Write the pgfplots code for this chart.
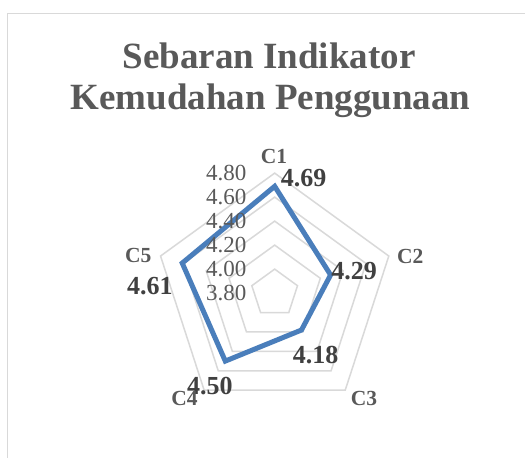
\documentclass[border=0pt]{standalone}
\usepackage{fontspec}
\setmainfont{Liberation Serif}
\usepackage{pgfplots}
\pgfplotsset{compat=1.18}
\usepgfplotslibrary{polar}
\usepackage{pgfplotstable}

\definecolor{gridgray}{HTML}{D9D9D9}
\definecolor{txtgray}{HTML}{595959}
\definecolor{lblgray}{HTML}{404040}
\definecolor{lineblue}{HTML}{4A7EBB}

% angle (deg) and mean score per indicator
\pgfplotstableread{
ang val
90 4.69
18 4.29
-54 4.18
-126 4.50
162 4.61
}\skordata

\begin{document}
\begin{tikzpicture}[x=1pt,y=1pt,
  catlbl/.style={text=txtgray, font=\fontsize{21.5}{23}\selectfont\bfseries},
  vallbl/.style={text=lblgray, font=\fontsize{26}{28}\selectfont\bfseries},
  ticklbl/.style={text=txtgray, font=\fontsize{23}{25}\selectfont, anchor=east},
]
\useasboundingbox (0,0) rectangle (525,458);
\fill[white] (0,0) rectangle (525,458);
\draw[gridgray, line width=1.5pt] (7.5,0) -- (7.5,444.5) -- (525,444.5);

\node[anchor=base, text=txtgray, font=\fontsize{37}{41}\selectfont\bfseries] at (269,389.7) {Sebaran Indikator};
\node[anchor=base, text=txtgray, font=\fontsize{37}{41}\selectfont\bfseries] at (270.5,348) {Kemudahan Penggunaan};

\begin{polaraxis}[
  at={(228.9,137.4)}, anchor=origin,
  scale only axis, width=240pt, height=240pt,
  xmin=0, xmax=360, ymin=0, ymax=1,
  hide axis, clip=false,
  y filter/.expression={y-3.8},
]
\pgfplotsinvokeforeach{4.0,4.2,4.4,4.6,4.8}{
  \addplot[gridgray, line width=1.5pt, line join=miter] coordinates {(90,#1) (18,#1) (-54,#1) (-126,#1) (162,#1)} --cycle;
}
\addplot[lineblue, line width=5pt, line join=miter] table[x=ang, y=val] {\skordata} --cycle;

% value labels
\node[vallbl, xshift=29pt, yshift=7.8pt] at (axis cs:90,0.89) {4.69};
\node[vallbl, xshift=23.4pt, yshift=4.3pt] at (axis cs:18,0.49) {4.29};
\node[vallbl, xshift=14.2pt, yshift=-24.8pt] at (axis cs:-54,0.38) {4.18};
\node[vallbl, xshift=-15.5pt, yshift=-24.5pt] at (axis cs:-126,0.70) {4.50};
\node[vallbl, xshift=-32.3pt, yshift=-23.4pt] at (axis cs:162,0.81) {4.61};

% category labels
\node[catlbl, xshift=-0.7pt, yshift=16.9pt] at (axis cs:90,1) {C1};
\node[catlbl, xshift=21.5pt, yshift=-0.5pt] at (axis cs:18,1) {C2};
\node[catlbl, xshift=18.8pt, yshift=-8.3pt] at (axis cs:-54,1) {C3};
\node[catlbl, xshift=-19.7pt, yshift=-8.3pt] at (axis cs:-126,1) {C4};
\node[catlbl, xshift=-22.3pt, yshift=0.4pt] at (axis cs:162,1) {C5};

% radial scale
\node[ticklbl, xshift=-24.7pt] at (axis cs:90,0) {3.80};
\node[ticklbl, xshift=-24.7pt] at (axis cs:90,0.2) {4.00};
\node[ticklbl, xshift=-24.7pt] at (axis cs:90,0.4) {4.20};
\node[ticklbl, xshift=-24.7pt] at (axis cs:90,0.6) {4.40};
\node[ticklbl, xshift=-24.7pt] at (axis cs:90,0.8) {4.60};
\node[ticklbl, xshift=-24.7pt] at (axis cs:90,1) {4.80};
\end{polaraxis}
\end{tikzpicture}
\end{document}
